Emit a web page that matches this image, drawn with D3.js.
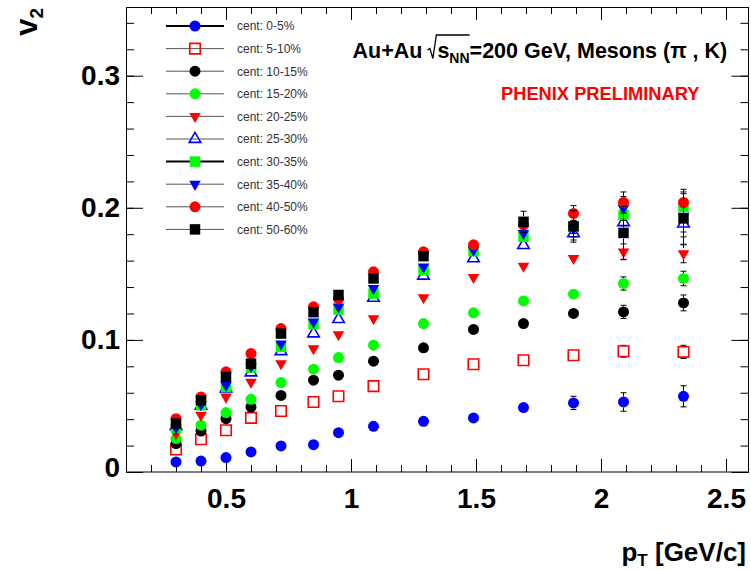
<!DOCTYPE html>
<html><head><meta charset="utf-8">
<script src="https://cdn.jsdelivr.net/npm/d3@7/dist/d3.min.js"></script>
<style>body{margin:0;background:#fff}svg{display:block}</style>
</head><body>
<svg id="chart" width="751" height="570"></svg>
<script>
// ---------------- data ----------------
const pT = [0.3, 0.4, 0.5, 0.6, 0.72, 0.85, 0.95, 1.09, 1.29, 1.49, 1.69, 1.89, 2.09, 2.33];
const legendLabels = ["cent: 0-5%", "cent: 5-10%", "cent: 10-15%", "cent: 15-20%", "cent: 20-25%",
                      "cent: 25-30%", "cent: 30-35%", "cent: 35-40%", "cent: 40-50%", "cent: 50-60%"];
const v2_c0_5   = [0.0076, 0.0083, 0.0109, 0.0152, 0.0197, 0.0207, 0.0298, 0.0346, 0.0384, 0.0409, 0.0488, 0.0523, 0.0530, 0.0573];
const v2_c5_10  = [0.0170, 0.0248, 0.0316, 0.0410, 0.0462, 0.0530, 0.0573, 0.0650, 0.0740, 0.0816, 0.0846, 0.0884, 0.0914, 0.0909];
const v2_c10_15 = [0.0215, 0.0310, 0.0404, 0.0492, 0.0580, 0.0695, 0.0733, 0.0839, 0.0940, 0.1079, 0.1124, 0.1200, 0.1212, 0.1280];
const v2_c15_20 = [0.0253, 0.0354, 0.0450, 0.0550, 0.0677, 0.0778, 0.0866, 0.0960, 0.1124, 0.1205, 0.1295, 0.1346, 0.1427, 0.1465];
const v2_c20_25 = [0.0290, 0.0430, 0.0568, 0.0680, 0.0820, 0.0935, 0.1040, 0.1162, 0.1320, 0.1473, 0.1558, 0.1617, 0.1667, 0.1654];
const v2_c25_30 = [0.0348, 0.0500, 0.0632, 0.0753, 0.0914, 0.1048, 0.1157, 0.1318, 0.1485, 0.1617, 0.1717, 0.1806, 0.1890, 0.1880];
const v2_c30_35 = [0.0335, 0.0505, 0.0644, 0.0790, 0.0947, 0.1120, 0.1230, 0.1350, 0.1528, 0.1672, 0.1780, 0.1855, 0.1945, 0.2007];
const v2_c35_40 = [0.0335, 0.0510, 0.0657, 0.0800, 0.0970, 0.1136, 0.1250, 0.1390, 0.1553, 0.1680, 0.1806, 0.1840, 0.1995, 0.1937];
const v2_c40_50 = [0.0404, 0.0568, 0.0758, 0.0897, 0.1086, 0.1250, 0.1310, 0.1515, 0.1667, 0.1720, 0.1870, 0.1957, 0.2040, 0.2040];
const v2_c50_60 = [0.0367, 0.0543, 0.0720, 0.0820, 0.1048, 0.1210, 0.1340, 0.1465, 0.1634, null,   0.1894, 0.1860, 0.1810, 0.1920];
const err_c0_5   = [0.001, 0.001, 0.001, 0.001, 0.001, 0.001, 0.001, 0.001, 0.0015, 0.002, 0.002, 0.005, 0.007, 0.008];
const err_c5_10  = [0.001, 0.001, 0.001, 0.001, 0.001, 0.001, 0.001, 0.001, 0.0015, 0.002, 0.002, 0.003, 0.0045, 0.005];
const err_c10_15 = [0.001, 0.001, 0.001, 0.001, 0.001, 0.001, 0.001, 0.001, 0.0015, 0.002, 0.002, 0.003, 0.005, 0.006];
const err_c15_20 = [0.001, 0.001, 0.001, 0.001, 0.001, 0.001, 0.001, 0.001, 0.0015, 0.002, 0.002, 0.003, 0.005, 0.0055];
const err_c20_25 = [0.001, 0.001, 0.001, 0.001, 0.001, 0.001, 0.001, 0.002, 0.002, 0.002, 0.003, 0.004, 0.006, 0.007];
const err_c25_30 = [0.001, 0.001, 0.001, 0.001, 0.001, 0.001, 0.001, 0.002, 0.002, 0.003, 0.004, 0.005, 0.008, 0.010];
const err_c30_35 = [0.001, 0.001, 0.001, 0.001, 0.001, 0.001, 0.001, 0.002, 0.002, 0.003, 0.004, 0.005, 0.008, 0.010];
const err_c35_40 = [0.001, 0.001, 0.001, 0.001, 0.001, 0.001, 0.001, 0.002, 0.002, 0.003, 0.004, 0.006, 0.009, 0.012];
const err_c40_50 = [0.001, 0.001, 0.001, 0.001, 0.001, 0.001, 0.001, 0.002, 0.002, 0.003, 0.004, 0.006, 0.008, 0.010];
const err_c50_60 = [0.001, 0.001, 0.001, 0.001, 0.001, 0.001, 0.002, 0.002, 0.003, null,  0.008, 0.012, 0.020, 0.020];
const xTickLabels = [0.5, 1, 1.5, 2, 2.5];
const yTickLabels = [0, 0.1, 0.2, 0.3];

// -------------- styles -----------------
const seriesValues = [v2_c0_5, v2_c5_10, v2_c10_15, v2_c15_20, v2_c20_25, v2_c25_30, v2_c30_35, v2_c35_40, v2_c40_50, v2_c50_60];
const seriesErrors = [err_c0_5, err_c5_10, err_c10_15, err_c15_20, err_c20_25, err_c25_30, err_c30_35, err_c35_40, err_c40_50, err_c50_60];
const seriesStyle = [
  {shape: "circle", color: "#0000ff", fill: true,  lw: 2, lc: "#000"},
  {shape: "square", color: "#ff0000", fill: false, lw: 1, lc: "#555"},
  {shape: "circle", color: "#000000", fill: true,  lw: 1, lc: "#555"},
  {shape: "circle", color: "#00ff00", fill: true,  lw: 1, lc: "#555"},
  {shape: "tdown",  color: "#ff0000", fill: true,  lw: 1, lc: "#555"},
  {shape: "tup",    color: "#0000ff", fill: false, lw: 1, lc: "#555"},
  {shape: "square", color: "#00ff00", fill: true,  lw: 2, lc: "#000"},
  {shape: "tdown",  color: "#0000ff", fill: true,  lw: 1, lc: "#555"},
  {shape: "circle", color: "#ff0000", fill: true,  lw: 1, lc: "#555"},
  {shape: "square", color: "#000000", fill: true,  lw: 1, lc: "#555"}
];

const svg = d3.select("#chart");
const FONT = "'Liberation Sans', Arial, Helvetica, sans-serif";
const x = d3.scaleLinear().domain([0.1, 2.59]).range([126, 748.5]);
const y = d3.scaleLinear().domain([0, 0.352]).range([472, 7]);

// -------------- axes (ticks inside, on all sides) -------------
function styleAxis(g) {
  g.select(".domain").remove();
  g.selectAll("line").attr("stroke", "#000").attr("stroke-width", 1);
  g.selectAll("text").attr("font-family", FONT).attr("font-weight", "bold").attr("font-size", 28).attr("fill", "#000");
}
const xMinor = d3.range(2, 26).map(d => d / 10);
const yMinor = d3.range(0, 18).map(d => d / 50);

// bottom
svg.append("g").attr("transform", "translate(0,472)")
  .call(d3.axisBottom(x).tickValues(xMinor).tickSize(-7).tickFormat(""))
  .call(styleAxis);
svg.append("g").attr("transform", "translate(0,472)")
  .call(d3.axisBottom(x).tickValues(xTickLabels).tickSize(-13).tickPadding(16).tickFormat(d3.format("")))
  .call(styleAxis);
// top
svg.append("g").attr("transform", "translate(0,7)")
  .call(d3.axisTop(x).tickValues(xMinor).tickSize(-7).tickFormat(""))
  .call(styleAxis);
svg.append("g").attr("transform", "translate(0,7)")
  .call(d3.axisTop(x).tickValues(xTickLabels).tickSize(-13).tickFormat(""))
  .call(styleAxis);
// left
svg.append("g").attr("transform", "translate(126,0)")
  .call(d3.axisLeft(y).tickValues(yMinor).tickSize(-8).tickFormat(""))
  .call(styleAxis);
const yl = svg.append("g").attr("transform", "translate(126,0)")
  .call(d3.axisLeft(y).tickValues(yTickLabels).tickSize(-17).tickPadding(6).tickFormat(d3.format("")))
  .call(styleAxis);
yl.selectAll(".tick").filter(d => d === 0).select("text").attr("y", -4);
// right
svg.append("g").attr("transform", "translate(748.5,0)")
  .call(d3.axisRight(y).tickValues(yMinor).tickSize(-8).tickFormat(""))
  .call(styleAxis);
svg.append("g").attr("transform", "translate(748.5,0)")
  .call(d3.axisRight(y).tickValues(yTickLabels).tickSize(-17).tickFormat(""))
  .call(styleAxis);

// frame
svg.append("rect").attr("x", 126.5).attr("y", 7.5).attr("width", 622).attr("height", 464.5)
  .attr("fill", "none").attr("stroke", "#000").attr("stroke-width", 1);

// -------------- markers -------------
const HALF = 5.5; // marker half size in px (error bars start outside it)
function markerPath(shape) {
  if (shape === "circle") return d3.symbol(d3.symbolCircle, 95)();
  if (shape === "square") return d3.symbol(d3.symbolSquare, 110)();
  return d3.symbol(d3.symbolTriangle, 58)();
}
function drawMarker(g, st, cx, cy) {
  const p = g.append("path").attr("d", markerPath(st.shape))
    .attr("transform", `translate(${cx},${cy})` + (st.shape === "tdown" ? " rotate(180)" : ""));
  if (st.fill) p.attr("fill", st.color).attr("stroke", "none");
  else p.attr("fill", "none").attr("stroke", st.color).attr("stroke-width", 1.6);
}

const plot = svg.append("g");
seriesValues.forEach((vals, si) => {
  const st = seriesStyle[si];
  const errs = seriesErrors[si];
  const g = plot.append("g");
  const pts = pT.map((p, i) => ({p, v: vals[i], e: errs[i]})).filter(d => d.v != null);
  // error bars (drawn outside the marker, ROOT style)
  pts.forEach(d => {
    const cx = x(d.p), cy = y(d.v);
    const yTop = y(d.v + d.e), yBot = y(d.v - d.e);
    if (cy - yTop > HALF) {
      g.append("line").attr("x1", cx).attr("x2", cx).attr("y1", yTop).attr("y2", cy - HALF)
        .attr("stroke", "#000").attr("stroke-width", 1);
      g.append("line").attr("x1", cx - 3).attr("x2", cx + 3).attr("y1", yTop).attr("y2", yTop)
        .attr("stroke", "#000").attr("stroke-width", 1);
    }
    if (yBot - cy > HALF) {
      g.append("line").attr("x1", cx).attr("x2", cx).attr("y1", cy + HALF).attr("y2", yBot)
        .attr("stroke", "#000").attr("stroke-width", 1);
      g.append("line").attr("x1", cx - 3).attr("x2", cx + 3).attr("y1", yBot).attr("y2", yBot)
        .attr("stroke", "#000").attr("stroke-width", 1);
    }
  });
  pts.forEach(d => drawMarker(g, st, x(d.p), y(d.v)));
});

// -------------- legend -------------
const leg = svg.append("g");
legendLabels.forEach((lab, i) => {
  const ly = 26 + i * 22.6;
  const st = seriesStyle[i];
  leg.append("line").attr("x1", 166).attr("x2", 224).attr("y1", ly).attr("y2", ly)
    .attr("stroke", st.lc).attr("stroke-width", st.lw);
  drawMarker(leg, st, 195, ly);
  leg.append("text").attr("x", 237).attr("y", ly + 4.3).text(lab)
    .attr("font-family", FONT).attr("font-size", 12).attr("fill", "#333");
});

// -------------- title -------------
const tg = svg.append("g").attr("font-family", FONT).attr("font-weight", "bold").attr("fill", "#000");
const base = 58;
const TS = 21.5;
let cx = 352.5;
function put(str, size, dy) {
  const t = tg.append("text").attr("x", cx).attr("y", base + (dy || 0)).attr("font-size", size).text(str);
  const w = t.node().getComputedTextLength();
  cx += w;
  return w;
}
put("Au+Au", TS);
cx += 5;
const rx = cx;
cx += 10;
put("s", TS);
put("NN", 14, 5);
const rEnd = cx;
tg.append("path").attr("d", `M${rx},${base-8} L${rx+2.5},${base-9.5} L${rx+5.5},${base+0.5} L${rx+9},${base-23} L${rEnd},${base-23}`)
  .attr("fill", "none").attr("stroke", "#000").attr("stroke-width", 1.3);
put("=200\u00A0GeV,\u00A0Mesons\u00A0(\u03C0\u00A0,\u00A0K)", TS);

svg.append("text").attr("x", 501).attr("y", 100).text("PHENIX PRELIMINARY")
  .attr("font-family", FONT).attr("font-weight", "bold").attr("font-size", 18.3).attr("fill", "#ff0000");

// -------------- axis titles -------------
const yt = svg.append("text").attr("transform", "translate(37,8) rotate(-90)")
  .attr("text-anchor", "end").attr("font-family", FONT).attr("font-weight", "bold").attr("font-size", 31).attr("fill", "#000");
yt.append("tspan").text("v");
yt.append("tspan").attr("font-size", 19).attr("dy", 6).text("2");

const xt = svg.append("text").attr("x", 746).attr("y", 561).attr("text-anchor", "end")
  .attr("font-family", FONT).attr("font-weight", "bold").attr("font-size", 26).attr("fill", "#000");
xt.append("tspan").text("p");
xt.append("tspan").attr("font-size", 17).attr("dy", 5).text("T");
xt.append("tspan").attr("dy", -5).text("\u00A0[GeV/c]");
</script>
</body></html>
